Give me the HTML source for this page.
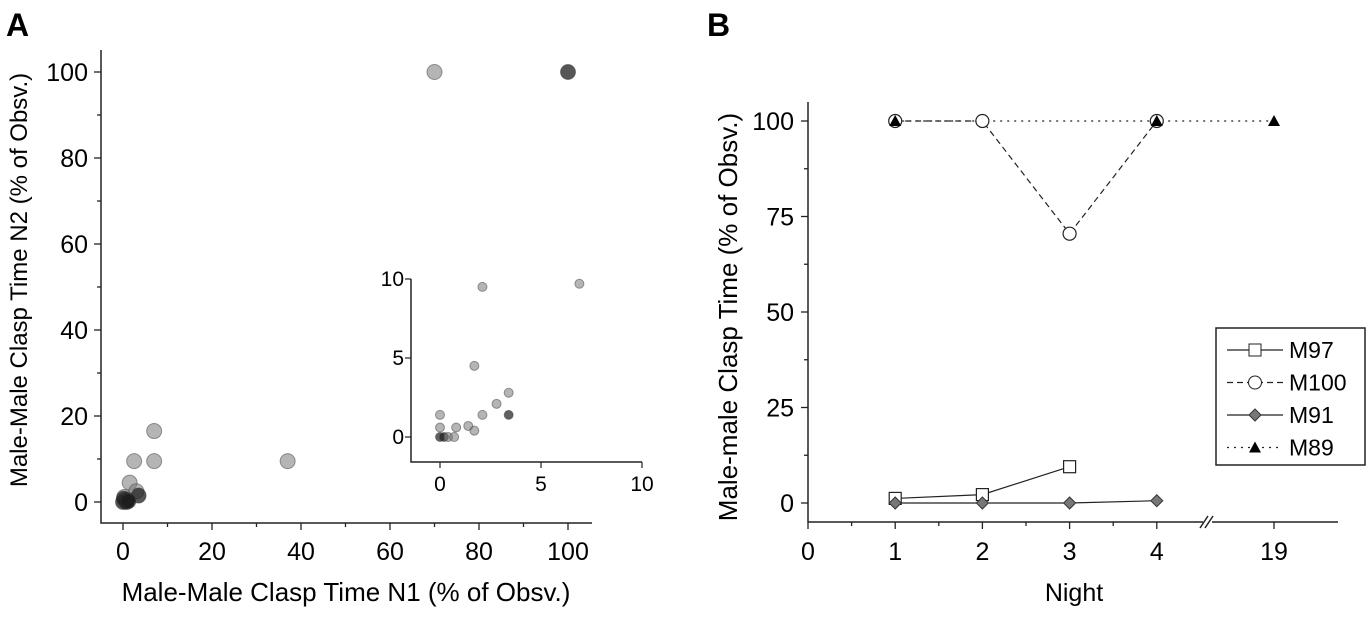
<!DOCTYPE html>
<html><head><meta charset="utf-8"><style>
body{margin:0;background:#fff;}
svg{display:block;font-family:"Liberation Sans",sans-serif;}
</style></head><body>
<svg id="c" width="1371" height="621" viewBox="0 0 1371 621" xmlns="http://www.w3.org/2000/svg">
<text x="6" y="36" font-size="32" font-weight="bold">A</text>
<text x="707" y="36" font-size="32" font-weight="bold">B</text>
<g id="ga"></g>
<g id="gb"></g>
</svg>
<script>
// Panel A data
const aX = [70,100,7,7,2.5,37,1.5,3,3.5,0,0.5,1,0.3,0.8,0.2,1.2];
const aY = [100,100,16.5,9.5,9.5,9.5,4.5,2.5,1.5,0,0.3,0.5,1.2,0,0.8,0.2];
const aDark = [0,1,0,0,0,0,0,0,1,1,1,1,0,1,1,1];
const aTicks = [0,20,40,60,80,100];
// inset
const iX = [0,0,0,0.2,0.4,0.7,0.8,1.4,1.7,1.7,2.1,2.1,2.8,3.4,3.4,6.9];
const iY = [1.4,0.6,0,0,0,0,0.6,0.7,0.4,4.5,9.5,1.4,2.1,2.8,1.4,9.7];
const iDark = [0,0,1,1,0,0,0,0,0,0,0,0,0,0,1,0];
const iTicks = [0,5,10];
// Panel B data
const nights = [1,2,3,4];
const m97 = [1.2,2.2,9.5];
const m100 = [100,100,70.5,100];
const m91 = [0,0,0,0.6];
const m89N = [1,4,19];
const m89 = [100,100,100];
const bYTicks = [0,25,50,75,100];
const bXTicks = [0,1,2,3,4,19];

const NS="http://www.w3.org/2000/svg";
function mk(p,tag,attrs,name,txt){const e=document.createElementNS(NS,tag);for(const k in attrs)e.setAttribute(k,attrs[k]);


if(txt!==undefined)e.textContent=txt;p.appendChild(e);return e;}
const ga=document.getElementById('ga'), gb=document.getElementById('gb');

// Panel A axes
const ax=v=>123+v*4.45, ay=v=>502-v*4.3;
mk(ga,'path',{d:'M101,50 V523 H592',fill:'none',stroke:'#222','stroke-width':1.5},'axes-a');
aTicks.forEach(t=>{
 mk(ga,'line',{x1:ax(t),x2:ax(t),y1:523,y2:530,stroke:'#222','stroke-width':1.3},'x-tick');
 if(t<100)mk(ga,'line',{x1:ax(t+10),x2:ax(t+10),y1:523,y2:527,stroke:'#222','stroke-width':1.3},'x-minor-tick');
 mk(ga,'text',{x:ax(t),y:560,'font-size':25,'text-anchor':'middle'},'x-tick-label',t);
 mk(ga,'line',{x1:94,x2:101,y1:ay(t),y2:ay(t),stroke:'#222','stroke-width':1.3},'y-tick');
 if(t<100)mk(ga,'line',{x1:97,x2:101,y1:ay(t+10),y2:ay(t+10),stroke:'#222','stroke-width':1.3},'y-minor-tick');
 mk(ga,'text',{x:88,y:ay(t)+9,'font-size':25,'text-anchor':'end'},'y-tick-label',t);
});
mk(ga,'text',{x:346,y:601,'font-size':26,'text-anchor':'middle'},'x-axis-title','Male-Male Clasp Time N1 (% of Obsv.)');
mk(ga,'text',{x:0,y:0,'font-size':24,'text-anchor':'middle',transform:'translate(27,280) rotate(-90)'},'y-axis-title','Male-Male Clasp Time N2 (% of Obsv.)');
aX.forEach((x,i)=>mk(ga,'circle',{cx:ax(x),cy:ay(aY[i]),r:7.5,fill:aDark[i]?'rgba(30,30,30,0.75)':'rgba(120,120,120,0.55)',stroke:'rgba(60,60,60,0.5)','stroke-width':1},'scatter-point'));
// inset
const ix=v=>440+v*20.2, iy=v=>437-v*15.8;
mk(ga,'path',{d:'M411,279 V462 H642',fill:'none',stroke:'#222','stroke-width':1.5},'inset-axes');
iTicks.forEach(t=>{
 mk(ga,'line',{x1:ix(t),x2:ix(t),y1:462,y2:468,stroke:'#222','stroke-width':1.2},'inset-x-tick');
 mk(ga,'text',{x:ix(t),y:491,'font-size':21,'text-anchor':'middle'},'inset-x-tick-label',t);
 mk(ga,'line',{x1:405,x2:411,y1:iy(t),y2:iy(t),stroke:'#222','stroke-width':1.2},'inset-y-tick');
 mk(ga,'text',{x:404,y:iy(t)+7,'font-size':21,'text-anchor':'end'},'inset-y-tick-label',t);
});
iX.forEach((x,i)=>mk(ga,'circle',{cx:ix(x),cy:iy(iY[i]),r:4.5,fill:iDark[i]?'rgba(30,30,30,0.7)':'rgba(120,120,120,0.55)',stroke:'rgba(60,60,60,0.5)','stroke-width':1},'inset-point'));

// Panel B
const bx=v=>v<=4?808+v*87.2:1274+(v-19)*20, by=v=>503-v*3.82;
mk(gb,'path',{d:'M808,102 V522 H1203 M1212,522 H1338',fill:'none',stroke:'#222','stroke-width':1.5},'axes-b');
mk(gb,'path',{d:'M1200,528 L1208,516 M1205,528 L1213,516',fill:'none',stroke:'#222','stroke-width':1.5},'axis-break');
bXTicks.forEach(t=>{
 mk(gb,'line',{x1:bx(t),x2:bx(t),y1:522,y2:529,stroke:'#222','stroke-width':1.3},'x-tick');
 mk(gb,'text',{x:bx(t),y:560,'font-size':25,'text-anchor':'middle'},'x-tick-label',t);
});
[0.5,1.5,2.5,3.5].forEach(t=>mk(gb,'line',{x1:bx(t),x2:bx(t),y1:522,y2:526,stroke:'#222','stroke-width':1.3},'x-minor-tick'));
bYTicks.forEach(t=>{
 mk(gb,'line',{x1:801,x2:808,y1:by(t),y2:by(t),stroke:'#222','stroke-width':1.3},'y-tick');
 if(t<100)mk(gb,'line',{x1:804,x2:808,y1:by(t+12.5),y2:by(t+12.5),stroke:'#222','stroke-width':1.3},'y-minor-tick');
 mk(gb,'text',{x:794,y:by(t)+9,'font-size':25,'text-anchor':'end'},'y-tick-label',t);
});
mk(gb,'text',{x:1074,y:601,'font-size':25,'text-anchor':'middle'},'x-axis-title','Night');
mk(gb,'text',{x:0,y:0,'font-size':26,'text-anchor':'middle',transform:'translate(737,317) rotate(-90)'},'y-axis-title','Male-male Clasp Time (% of Obsv.)');
function line(xs,ys,dash,name){mk(gb,'polyline',{points:xs.map((x,i)=>bx(x)+','+by(ys[i])).join(' '),fill:'none',stroke:'#222','stroke-width':1.2,'stroke-dasharray':dash},name);}
line(m89N,m89,'2,5','line-m89');
line(nights,m100,'6,4','line-m100');
line(nights.slice(0,3),m97,'','line-m97');
line(nights,m91,'','line-m91');
m97.forEach((v,i)=>mk(gb,'rect',{x:bx(nights[i])-6,y:by(v)-6,width:12,height:12,fill:'#fff',stroke:'#222','stroke-width':1.2},'marker-m97'));
m100.forEach((v,i)=>mk(gb,'circle',{cx:bx(nights[i]),cy:by(v),r:6.5,fill:'#fff',stroke:'#222','stroke-width':1.2},'marker-m100'));
m91.forEach((v,i)=>{const x=bx(nights[i]),y=by(v);mk(gb,'path',{d:`M${x},${y-6}L${x+6},${y}L${x},${y+6}L${x-6},${y}Z`,fill:'#777',stroke:'#333','stroke-width':1},'marker-m91');});
m89.forEach((v,i)=>{const x=bx(m89N[i]),y=by(v);mk(gb,'path',{d:`M${x},${y-6}L${x+6},${y+5}L${x-6},${y+5}Z`,fill:'#000'},'marker-m89');});
// legend
const lg=mk(gb,'g',{},'legend');
mk(lg,'rect',{x:1216,y:328,width:149,height:137,fill:'#fff',stroke:'#222','stroke-width':1.5},'legend-box');
const lab=['M97','M100','M91','M89'],dash=['','6,4','','2,5'];
lab.forEach((l,i)=>{const y=350+i*32.5;
 mk(lg,'line',{x1:1227,x2:1283,y1:y,y2:y,stroke:'#222','stroke-width':1.2,'stroke-dasharray':dash[i]},'legend-line');
 const x=1255;
 if(i==0)mk(lg,'rect',{x:x-6,y:y-6,width:12,height:12,fill:'#fff',stroke:'#222'},'legend-marker');
 if(i==1)mk(lg,'circle',{cx:x,cy:y,r:6.5,fill:'#fff',stroke:'#222'},'legend-marker');
 if(i==2)mk(lg,'path',{d:`M${x},${y-6}L${x+6},${y}L${x},${y+6}L${x-6},${y}Z`,fill:'#777',stroke:'#333'},'legend-marker');
 if(i==3)mk(lg,'path',{d:`M${x},${y-6}L${x+6},${y+5}L${x-6},${y+5}Z`,fill:'#000'},'legend-marker');
 mk(lg,'text',{x:1289,y:y+8,'font-size':23},'legend-entry',l);
});
</script>
</body></html>
